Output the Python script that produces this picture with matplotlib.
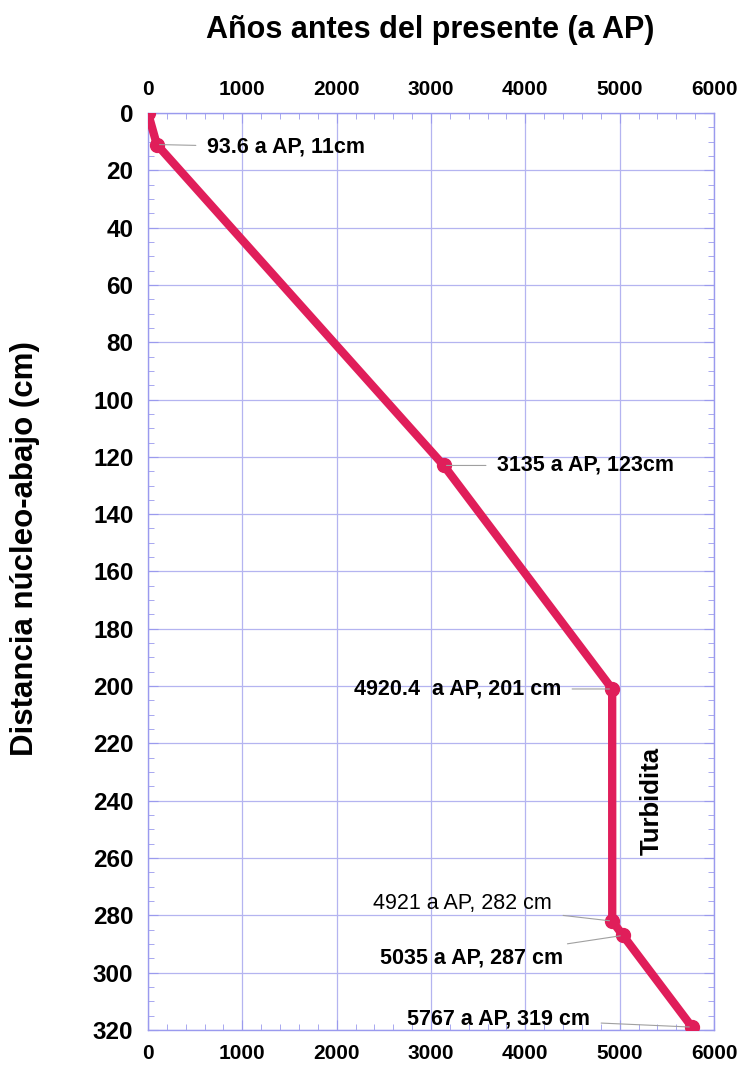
import matplotlib
matplotlib.use("Agg")
import matplotlib.pyplot as plt
from matplotlib.ticker import MultipleLocator

plt.rcParams['font.family'] = ['Liberation Sans', 'DejaVu Sans']

years = [0, 93.6, 3135, 4920.4, 4921, 5035, 5767]
depth = [0, 11, 123, 201, 282, 287, 319]
labels = ["", "93.6 a AP, 11cm", "3135 a AP, 123cm", "4920.4  a AP, 201 cm",
          "4921 a AP, 282 cm", "5035 a AP, 287 cm", "5767 a AP, 319 cm"]
label_bold = [True, True, True, True, False, True, True]
label_pos = [None, (625, 12), (3700, 123), (4378, 201), (4283, 276), (4399, 295), (4686, 316)]
label_ha = [None, 'left', 'left', 'right', 'right', 'right', 'right']

line_c = '#E01E5A'
grid_c = '#B4B4F0'
spine_c = '#9A9AEE'

fig = plt.figure(figsize=(7.41, 10.66), dpi=100)
ax = fig.add_axes([0.1997, 0.0338, 0.7639, 0.8602])

ax.plot(years, depth, color=line_c, lw=6.0, marker='o', ms=10, solid_capstyle='round', zorder=5)

ax.set_xlim(0, 6000)
ax.set_ylim(320, 0)
ax.xaxis.set_major_locator(MultipleLocator(1000))
ax.xaxis.set_minor_locator(MultipleLocator(200))
ax.yaxis.set_major_locator(MultipleLocator(20))
ax.yaxis.set_minor_locator(MultipleLocator(5))
ax.grid(True, which='major', color=grid_c, lw=0.9)
for s in ax.spines.values():
    s.set_color(spine_c)
    s.set_linewidth(1.0)
ax.tick_params(which='both', direction='in', top=True, right=True, labeltop=True,
               labelbottom=True, color=spine_c)
ax.tick_params(which='major', length=7)
ax.tick_params(which='minor', length=4)
ax.tick_params(axis='x', which='major', labelsize=15, pad=10)
ax.tick_params(axis='y', which='major', labelsize=17.5, pad=10.5)
for lab in ax.get_xticklabels() + ax.get_yticklabels():
    lab.set_fontweight('bold')

fig.text(0.581, 0.972, "Años antes del presente (a AP)", ha='center', va='center',
         fontsize=22, fontweight='bold')
ax.set_ylabel("Distancia núcleo-abajo (cm)", fontsize=22.5, fontweight='bold')
ax.yaxis.set_label_coords(-0.19, 0.525)

for x, y, t, b, p, ha in zip(years, depth, labels, label_bold, label_pos, label_ha):
    if not t:
        continue
    ax.annotate(t, xy=(x, y), xytext=p, ha=ha, va='center', fontsize=15.5,
                fontweight='bold' if b else 'normal',
                arrowprops=dict(arrowstyle='-', color='#A0A0A0', lw=0.8,
                                shrinkA=6, shrinkB=2), zorder=6)

ax.text(5340, 240, "Turbidita", rotation=90, ha='center', va='center',
        fontsize=18.5, fontweight='bold')

fig.savefig("out.png", dpi=100)
